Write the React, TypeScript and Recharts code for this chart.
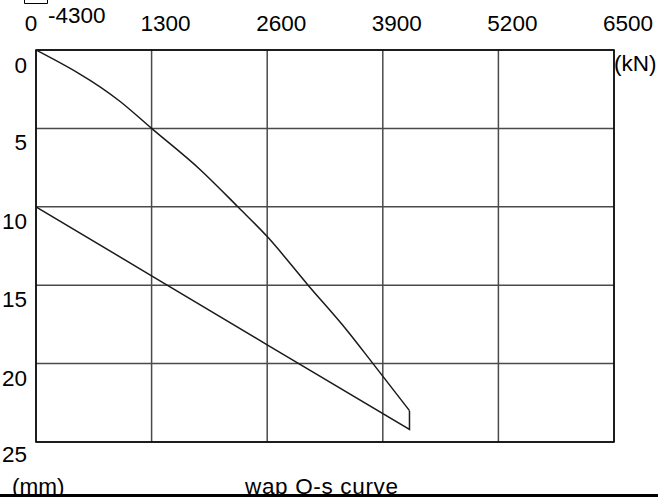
import { CartesianGrid, Line, LineChart, ReferenceArea, XAxis, YAxis } from "recharts";

// load Q (kN) vs settlement s (mm)
const Q_TICKS = [0, 1300, 2600, 3900, 5200, 6500];
const S_TICKS = [0, 5, 10, 15, 20, 25];

const loadQ = [0, 950, 1300, 1850, 2270, 2600, 3060, 3500, 3790, 4200];
const loadS = [0, 3.3, 5.0, 7.65, 10.0, 11.9, 15.0, 17.9, 20.0, 23.0];

const unloadQ = [4200, 4200, 2600, 1300, 0];
const unloadS = [23.0, 24.2, 18.8, 14.4, 10.0];

const loadData = loadQ.map((q, i) => ({ q, s: loadS[i] }));
const unloadData = unloadQ.map((q, i) => ({ q, s: unloadS[i] }));

const FONT = "'Liberation Sans', Arial, sans-serif";
const INK = "#1a1a1a";

function QTick({ x, payload }: any) {
  const v = payload.value;
  const dx = v === 0 ? -5 : 14;
  return (
    <text x={x + dx} y={31} textAnchor="middle" fontFamily={FONT} fontSize={22.5} fill="#000">
      {v}
    </text>
  );
}

function STick({ y, payload }: any) {
  const v = payload.value;
  const dy = v === 0 ? 15 : v === 25 ? 11.5 : 14;
  return (
    <text x={27} y={y + dy + 8} textAnchor="end" fontFamily={FONT} fontSize={22.5} fill="#000">
      {v}
    </text>
  );
}

export default function App() {
  return (
    <div style={{ position: "absolute", left: 0, top: 0, width: 658, height: 497, background: "#fff" }}>
      <LineChart width={658} height={497} margin={{ top: 20, right: 44, bottom: 55, left: 6 }}>
        <CartesianGrid stroke="#4a4a4a" strokeWidth={1.5} />
        <XAxis
          dataKey="q"
          type="number"
          orientation="top"
          domain={[0, 6500]}
          ticks={Q_TICKS}
          height={30}
          axisLine={false}
          tickLine={false}
          tick={<QTick />}
          allowDataOverflow
        />
        <YAxis
          type="number"
          reversed
          domain={[0, 25]}
          ticks={S_TICKS}
          width={30}
          axisLine={false}
          tickLine={false}
          tick={<STick />}
          allowDataOverflow
        />
        <ReferenceArea x1={0} x2={6500} y1={0} y2={25} fill="none" stroke="#000" strokeWidth={1.5} />
        <Line data={loadData} dataKey="s" type="monotoneX" stroke={INK} strokeWidth={1.5} dot={false} isAnimationActive={false} />
        <Line data={unloadData} dataKey="s" type="linear" stroke={INK} strokeWidth={1.5} dot={false} isAnimationActive={false} />
      </LineChart>
      <svg width={658} height={497} style={{ position: "absolute", left: 0, top: 0, pointerEvents: "none" }}>
        <path d="M24.5 0 V3.5 H47.5 V0" fill="none" stroke="#000" strokeWidth={1} />
        <text x={48} y={23} fontFamily={FONT} fontSize={22.5}>-4300</text>
        <text x={614} y={71} fontFamily={FONT} fontSize={22.5}>(kN)</text>
        <text x={12} y={494} fontFamily={FONT} fontSize={22.5}>(mm)</text>
        <text x={245} y={494} fontFamily={FONT} fontSize={22.5} textLength={153} lengthAdjust="spacing">wap Q-s curve</text>
        <rect x={0} y={494} width={658} height={3} fill="#000" />
      </svg>
    </div>
  );
}
